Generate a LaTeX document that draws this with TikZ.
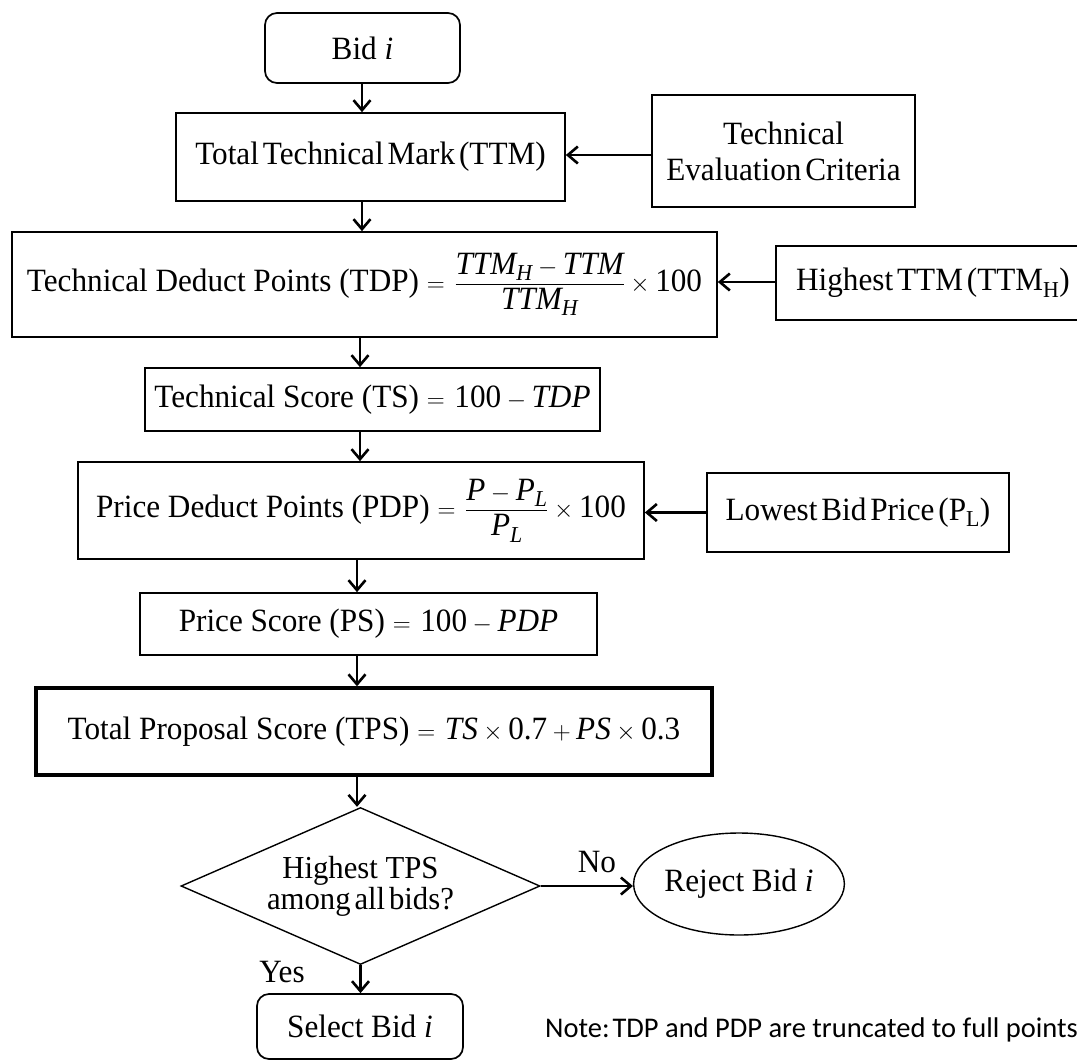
\documentclass[tikz,border=0pt]{standalone}
\usepackage{amsmath}
\usepackage{fontspec}
\setmainfont{Liberation Serif}[FakeStretch=0.96]
\newfontfamily\notefont{Carlito}
\usetikzlibrary{shapes.geometric,arrows.meta}
\newcommand\mi[1]{\text{\itshape #1}}
\newcommand\tightsp{\spaceskip=0.12em plus 0.05em\relax}
\thickmuskip=7mu plus 2mu
\begin{document}
\begin{tikzpicture}[x=1pt,y=-1pt,
  every node/.style={font=\fontsize{32.5}{36}\selectfont},
  box/.style={draw,line width=1.7pt,inner sep=0pt,align=center},
  rbox/.style={box,rounded corners=12pt},
  thickbox/.style={box,line width=3.4pt},
  tight/.append style={execute at begin node=\tightsp},
  arr/.style={line width=2.6pt,-{Straight Barb[length=10pt,width=17pt]}},
  lbl/.style={inner sep=0pt}]
\useasboundingbox (0,0) rectangle (1077,1061);

% main column
\node[rbox,minimum width=195,minimum height=70] (bid) at (362.5,48) {Bid \textit{i}};
\node[box,tight,minimum width=389,minimum height=88] (ttm) at (370.5,157) {Total Technical Mark (TTM)};
\node[box,minimum width=705,minimum height=105] (tdp) at (364.5,284.5)
  {Technical Deduct Points (TDP) $=\dfrac{\mi{TTM}_{\mi{H}}-\mi{TTM}}{\mi{TTM}_{\mi{H}}}\times\text{100}$};
\node[box,minimum width=455,minimum height=63] (ts) at (372.5,399.5)
  {Technical Score (TS) $=\text{100}-\mi{TDP}$};
\node[box,minimum width=566,minimum height=97] (pdp) at (361,510.5)
  {Price Deduct Points (PDP) $=\dfrac{\mi{P}-\mi{P}_{\mi{L}}}{\mi{P}_{\mi{L}}}\times\text{100}$};
\node[box,minimum width=457,minimum height=62] (ps) at (368.5,624)
  {Price Score (PS) $=\text{100}-\mi{PDP}$};
\node[thickbox,minimum width=676,minimum height=87] (tps) at (374,731.5)
  {Total Proposal Score (TPS) $=\mi{TS}\times\text{0.7}+\mi{PS}\times\text{0.3}$};
\node[draw,line width=1.4pt,shape=diamond,aspect=2.3,inner sep=0pt,
  minimum width=359,minimum height=157,align=center,
  font=\fontsize{32}{31}\selectfont] (dia) at (360.5,886)
  {Highest TPS\\{\tightsp among all bids?}};
\node[draw,line width=1.4pt,ellipse,inner sep=0pt,minimum width=208,minimum height=102]
  (rej) at (739,884) {Reject Bid \textit{i}};
\node[rbox,minimum width=206,minimum height=65] (sel) at (360,1026.5) {Select Bid \textit{i}};

% side inputs
\node[box,tight,minimum width=263,minimum height=112] (tec) at (783.5,151)
  {Technical\\Evaluation Criteria};
\node[box,tight,minimum width=314,minimum height=74] (htt) at (933,283)
  {Highest TTM (TTM\textsubscript{H})};
\node[box,tight,minimum width=302,minimum height=79] (lbp) at (858,512.5)
  {Lowest Bid Price (P\textsubscript{L})};

% spine x positions
\coordinate (s1) at (362,0);
\coordinate (s2) at (360,0);
\coordinate (s3) at (357,0);

% vertical flow
\draw[arr] (s1 |- bid.south) -- (s1 |- ttm.north);
\draw[arr] (s1 |- ttm.south) -- (s1 |- tdp.north);
\draw[arr] (s2 |- tdp.south) -- (s2 |- ts.north);
\draw[arr] (s2 |- ts.south) -- (s2 |- pdp.north);
\draw[arr] (s3 |- pdp.south) -- (s3 |- ps.north);
\draw[arr] (s3 |- ps.south) -- (s3 |- tps.north);
\draw[arr] (s3 |- tps.south) -- (s3 |- dia.north);
\draw[arr] (dia.south) -- (dia.south |- sel.north);

% inputs
\draw[arr] (tec.west |- 0,155) -- (ttm.east |- 0,155);
\draw[arr] (htt.west |- 0,282) -- (tdp.east |- 0,282);
\draw[arr] (lbp.west) -- (lbp.west -| pdp.east);
\draw[arr] (dia.east) -- (dia.east -| rej.west);

% branch labels
\node[lbl] (no) at (597,862) {No};
\node[lbl] (yes) at (282,972) {Yes};

% footnote
\node[lbl,anchor=west,font=\notefont\fontsize{28.5}{32}\selectfont] (note) at (545,1030)
  {Note:\kern0.1em TDP and PDP are truncated to full points.};
\end{tikzpicture}
\end{document}
